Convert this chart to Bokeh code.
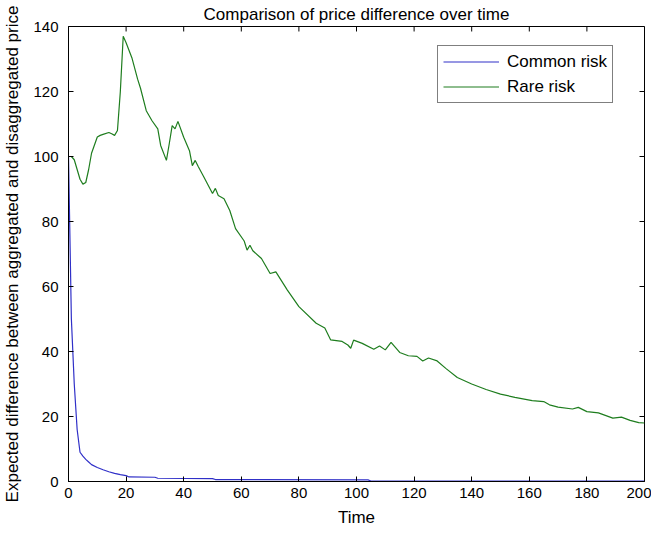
from bokeh.plotting import figure
from bokeh.models import Range1d, FixedTicker, Legend, LegendItem
from bokeh.embed import file_html
from bokeh.resources import INLINE

title_text = "Comparison of price difference over time"
x_label = "Time"
y_label = "Expected difference between aggregated and disaggregated price"

x_ticks = [0, 20, 40, 60, 80, 100, 120, 140, 160, 180, 200]
y_ticks = [0, 20, 40, 60, 80, 100, 120, 140]

common_t = [0, 1, 2, 3, 4, 5, 6, 7, 8, 10, 12, 14, 16, 18, 20, 21, 30, 31, 50, 51, 104, 105, 200]
common_v = [100, 50, 30, 16, 9, 7.8, 6.8, 6.0, 5.2, 4.3, 3.6, 3.0, 2.5, 2.1, 1.8, 1.4, 1.3, 1.0, 0.9, 0.6, 0.5, 0.15, 0.1]

rare_t = [0, 1, 2, 3, 4, 5, 6, 7, 8, 10, 11, 12, 14, 15, 16, 17, 18, 19, 20, 22, 24, 25,
          27, 29, 31, 32, 34, 35, 36, 37, 38, 40, 42, 43, 44, 45, 47, 50, 51, 52, 54, 56,
          58, 61, 62, 63, 64, 67, 70, 72, 76, 80, 86, 89, 91, 95, 97, 98, 99, 102, 106,
          108, 110, 112, 115, 118, 121, 123, 125, 128, 131, 135, 140, 145, 150, 155, 161,
          165, 167, 170, 175, 177, 180, 184, 189, 192, 195, 198, 200]
rare_v = [100, 100, 99, 96, 93, 91.5, 92, 96, 101, 106, 106.5, 106.8, 107.4, 107, 106.5,
          108, 120, 137, 135, 130.4, 123.8, 121, 114.1, 111, 108.5, 103.4, 98.8, 104,
          109.5, 108.5, 110.8, 105.9, 101.8, 97.2, 98.8, 97, 93.7, 88.6, 90.2, 88, 87,
          83.4, 77.8, 74, 71.2, 72.7, 71, 68.6, 64, 64.5, 58.9, 53.8, 48.7, 47.2, 43.6,
          43.1, 42, 41, 43.5, 42.5, 40.7, 41.7, 40.5, 42.8, 39.7, 38.7, 38.5, 37.1, 38,
          37.1, 34.8, 32, 30, 28.3, 26.9, 25.9, 24.9, 24.6, 23.6, 22.9, 22.3, 22.8, 21.5,
          21.1, 19.5, 19.8, 18.8, 18.1, 18]

FONT = "Liberation Sans"
X0, X1, Y0, Y1 = 0, 200, 0, 140
W, H = 651, 531
BL, BR, BT, BB = 66, 7, 25, 50
FRAME_W = W - BL - BR
FRAME_H = H - BT - BB
TICK = 5

p = figure(width=W, height=H, output_backend="svg", toolbar_location=None,
           x_range=Range1d(X0, X1), y_range=Range1d(Y0, Y1),
           min_border_left=BL, min_border_right=BR, min_border_top=BT, min_border_bottom=BB,
           background_fill_color="white", border_fill_color="white",
           margin=(0, 0, -8, 0))

p.title.text = title_text
p.title.text_font = FONT
p.title.text_font_size = "17px"
p.title.text_font_style = "normal"
p.title.text_color = "black"
p.title.align = "center"
p.title.standoff = 5

p.outline_line_color = "black"
p.outline_line_width = 1
p.outline_line_alpha = 1.0
p.xgrid.visible = False
p.ygrid.visible = False

xa = p.xaxis[0]
ya = p.yaxis[0]
for ax, ticks in ((xa, x_ticks), (ya, y_ticks)):
    ax.ticker = FixedTicker(ticks=ticks)
    ax.major_tick_in = TICK
    ax.major_tick_out = 0
    ax.minor_tick_line_color = None
    ax.axis_line_color = "black"
    ax.major_tick_line_color = "black"
    ax.major_label_text_font = FONT
    ax.major_label_text_font_size = "15px"
    ax.major_label_text_color = "black"
    ax.axis_label_text_font = FONT
    ax.axis_label_text_font_size = "17px"
    ax.axis_label_text_font_style = "normal"
    ax.axis_label_text_color = "black"
xa.axis_label = x_label
ya.axis_label = y_label
xa.major_label_standoff = 6
ya.major_label_standoff = 10
xa.axis_label_standoff = 7
ya.axis_label_standoff = 8

# inward ticks on the top and right edges of the box
dy = TICK * (Y1 - Y0) / FRAME_H
dx = TICK * (X1 - X0) / FRAME_W
p.segment(x0=x_ticks, y0=[Y1] * len(x_ticks), x1=x_ticks, y1=[Y1 - dy] * len(x_ticks),
          line_color="black", line_width=1)
p.segment(x0=[X1] * len(y_ticks), y0=y_ticks, x1=[X1 - dx] * len(y_ticks), y1=y_ticks,
          line_color="black", line_width=1)

r1 = p.line(common_t, common_v, line_color="#3030c8", line_width=1.2)
r2 = p.line(rare_t, rare_v, line_color="#1e7d1e", line_width=1.2)

legend = Legend(items=[LegendItem(label="Common risk", renderers=[r1]),
                       LegendItem(label="Rare risk", renderers=[r2])],
                location=(369, 378))
legend.label_text_font = FONT
legend.label_text_font_size = "17px"
legend.label_text_color = "black"
legend.glyph_width = 56
legend.glyph_height = 21
legend.label_height = 21
legend.label_standoff = 8
legend.spacing = 4
legend.padding = 5
legend.margin = 0
legend.border_line_color = "black"
legend.border_line_width = 1
legend.background_fill_color = "white"
legend.background_fill_alpha = 1.0
p.add_layout(legend, "center")

open("out.html", "w").write(file_html(p, INLINE))
